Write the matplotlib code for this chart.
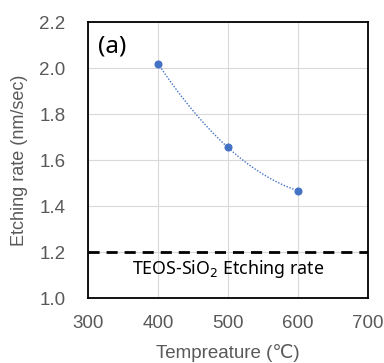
import matplotlib
matplotlib.use("Agg")
import matplotlib.pyplot as plt
import numpy as np

temps = [400, 500, 600]
rates = [2.02, 1.655, 1.467]
teos_rate = 1.2
x_ticks = [300, 400, 500, 600, 700]
y_ticks = [1.0, 1.2, 1.4, 1.6, 1.8, 2.0, 2.2]

plt.rcParams['font.family'] = ['Liberation Sans', 'DejaVu Sans']
gray = '#595959'

fig = plt.figure(figsize=(3.84, 3.63), dpi=100)
ax = fig.add_axes([0.229, 0.179, 0.729, 0.760])

# smoothed line through the points (quadratic through 3 points, like Excel smoothing)
coef = np.polyfit(temps, rates, 2)
xs = np.linspace(temps[0], temps[-1], 100)
ax.plot(xs, np.polyval(coef, xs), color='#4472C4', lw=1.0, ls=(0, (1, 1.2)), zorder=3)
ax.plot(temps, rates, 'o', color='#4472C4', ms=4.8, zorder=4)

ax.axhline(teos_rate, color='black', lw=2, ls=(0, (4, 2.5)), zorder=3)
ax.text(500, 1.125, 'TEOS-SiO$_2$ Etching rate', ha='center', va='center',
        fontsize=12.8, color='black', family=['Noto Sans', 'DejaVu Sans'])
ax.text(0.035, 0.91, '(a)', transform=ax.transAxes, ha='left', va='center',
        fontsize=17.5, color='black', family=['Noto Sans', 'DejaVu Sans'])

ax.set_xlim(300, 700)
ax.set_ylim(1.0, 2.2)
ax.set_xticks(x_ticks)
ax.set_yticks(y_ticks)
ax.set_yticklabels([f'{v:.1f}' for v in y_ticks])
ax.grid(True, color='#d9d9d9', lw=0.8)
ax.set_axisbelow(True)
ax.tick_params(length=0, labelsize=13.5, colors=gray)
ax.tick_params(axis='y', pad=16)
ax.tick_params(axis='x', pad=12)
for s in ax.spines.values():
    s.set_color('black')
    s.set_linewidth(1.3)

ax.set_xlabel('Tempreature (℃)', fontsize=13.5, color=gray, labelpad=9)
ax.set_ylabel('Etching rate (nm/sec)', fontsize=13, color=gray, labelpad=8)

fig.savefig('out.png', dpi=100)
